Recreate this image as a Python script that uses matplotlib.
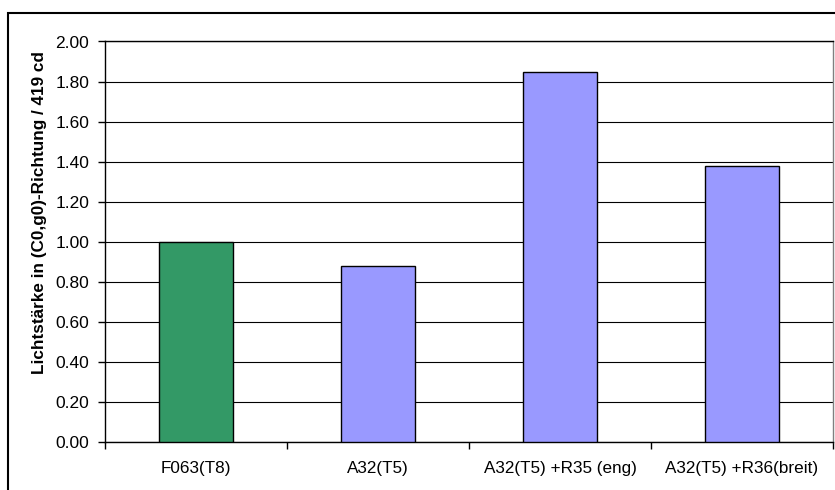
import matplotlib.pyplot as plt
from matplotlib.patches import Rectangle
import numpy as np

plt.rcParams['font.family'] = ['Liberation Sans', 'DejaVu Sans']

# Daten
kategorien = ['F063(T8)', 'A32(T5)', 'A32(T5) +R35 (eng)', 'A32(T5) +R36(breit)']
werte = [1.00, 0.88, 1.85, 1.38]
farben = ['#339966', '#9999FF', '#9999FF', '#9999FF']
y_ticks = [0.0, 0.2, 0.4, 0.6, 0.8, 1.0, 1.2, 1.4, 1.6, 1.8, 2.0]

fig = plt.figure(figsize=(8.35, 4.9), dpi=100)
ax = fig.add_axes([105 / 835, 1 - 442 / 490, 728 / 835, 400.5 / 490])

x = np.arange(len(kategorien))
ax.bar(x, werte, width=0.41, color=farben, edgecolor='black', linewidth=1.0, zorder=3)

ax.set_xlim(-0.5, len(kategorien) - 0.5)
ax.set_ylim(0, 2.0)
ax.set_yticks(y_ticks)
ax.set_yticklabels([f'{v:.2f}' for v in y_ticks])
ax.yaxis.grid(True, color='black', linewidth=0.8, zorder=0)

# Kategorien mittig, Teilstriche an den Grenzen
ax.set_xticks(x)
ax.set_xticklabels(kategorien)
ax.set_xticks(np.arange(-0.5, len(kategorien)), minor=True)
ax.tick_params(axis='x', which='major', length=0, pad=14, labelsize=12.3)
ax.tick_params(axis='x', which='minor', length=5, width=1, direction='out')
ax.tick_params(axis='y', length=5, width=1, direction='out', pad=6.5, labelsize=12.5)

ax.set_ylabel('Lichtstärke in (C0,g0)-Richtung / 419 cd', fontsize=12.3,
              fontweight='bold')
ax.yaxis.set_label_coords(-0.080, 0.574)

ax.spines['left'].set_color('black')
ax.spines['bottom'].set_color('black')
ax.spines['top'].set_color('black')
ax.spines['right'].set_color('#808080')
for s in ax.spines.values():
    s.set_linewidth(1.0)

# Rahmen um das Diagramm
fig.patches.append(Rectangle((8 / 835, -0.5), 2, 0.5 + 1 - 13 / 490,
                             transform=fig.transFigure, fill=False,
                             edgecolor='black', linewidth=1.5))

fig.savefig('out.png', dpi=100)
